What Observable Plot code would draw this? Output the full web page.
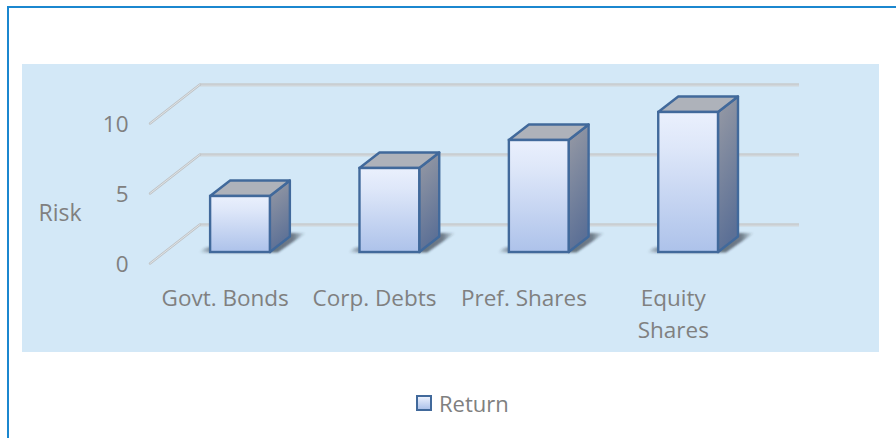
<!DOCTYPE html>
<html>
<head>
<meta charset="utf-8">
<script src="https://cdn.jsdelivr.net/npm/d3@7"></script>
<script src="https://cdn.jsdelivr.net/npm/@observablehq/plot@0.6"></script>
<style>
  html, body { margin: 0; padding: 0; background: #fff; }
  #page { position: relative; width: 896px; height: 438px; overflow: hidden; font-family: "Open Sans", sans-serif; }
  #edge { position: absolute; left: 7px; top: 6px; right: 0; bottom: 0; border-left: 2px solid #1b87cf; border-top: 2px solid #1b87cf; }
  #panel { position: absolute; left: 22px; top: 64px; width: 857px; height: 288px; background: #d3e8f7; }
  #chart { position: absolute; left: 0; top: 0; }
  #chart svg { overflow: visible; }
  #legend { position: absolute; left: 416px; top: 388px; display: flex; align-items: center; gap: 7px; font-size: 22px; line-height: 30px; color: #808080; }
  #legend i { display: block; width: 12px; height: 12px; border: 2px solid #41699b; background: linear-gradient(#eaf0fd, #adc2ea); }
</style>
</head>
<body>
<div id="page">
  <div id="edge"></div>
  <div id="panel"></div>
  <div id="chart"></div>
  <div id="legend"><i></i><span>Return</span></div>
</div>
<script>
const categories = ["Govt. Bonds", "Corp. Debts", "Pref. Shares", "Equity\nShares"];
const returnValues = [4, 6, 8, 10];
const yTicks = [0, 5, 10];
const axisTitle = "Risk";

const rows = categories.map((category, i) => ({category, value: returnValues[i]}));

// Projection of the fake 3-D floor
const floor = {dx: 50, dy: -39};   // front edge to back wall
const seat = {dx: 15.3, dy: -11.5};  // front edge to bar front face
const depth = {dx: 20, dy: -15.5}; // bar depth

const defs = () => {
  const d = d3.create("svg:defs");
  const grad = (id, x2, y2, stops) => {
    const g = d.append("linearGradient").attr("id", id).attr("x1", 0).attr("y1", 0).attr("x2", x2).attr("y2", y2);
    stops.forEach(([o, c, a]) => g.append("stop").attr("offset", o).attr("stop-color", c).attr("stop-opacity", a ?? 1));
  };
  grad("front", 0, 1, [[0, "#eaf0fd"], [0.25, "#deE7f9"], [1, "#adc2ea"]]);
  grad("side", 0.25, 1, [[0, "#989ba5"], [1, "#5c7096"]]);
  const shade = d.append("linearGradient").attr("id", "shade").attr("x1", 0).attr("y1", 0).attr("x2", 1).attr("y2", 0);
  [[0, 0], [0.12, 0.55], [0.5, 0.7], [0.88, 0.6], [1, 0]].forEach(([o, a]) =>
    shade.append("stop").attr("offset", o).attr("stop-color", "#2b3440").attr("stop-opacity", a));
  d.append("filter").attr("id", "soft").attr("x", "-30%").attr("y", "-60%").attr("width", "160%").attr("height", "220%")
    .append("feGaussianBlur").attr("stdDeviation", 1.3);
  return d.node();
};

// Slanted floor-to-wall part of each gridline
const slants = (index, {y}, values, {marginLeft}) => {
  const g = d3.create("svg:g");
  for (const t of yTicks) {
    const x0 = marginLeft, y0 = y(t);
    const seg = g.append("g").attr("fill", "none").attr("stroke-linecap", "round");
    seg.append("line").attr("x1", x0).attr("y1", y0).attr("x2", x0 + floor.dx).attr("y2", y0 + floor.dy)
      .attr("stroke", "#bfc3c6").attr("stroke-width", 2.4);
    seg.append("line").attr("x1", x0).attr("y1", y0).attr("x2", x0 + floor.dx).attr("y2", y0 + floor.dy)
      .attr("stroke", "#dfe3e6").attr("stroke-width", 1);
  }
  return g.node();
};

// Ground shadow, top face and side face of each bar
const solids = (index, {x, y}) => {
  const g = d3.create("svg:g");
  const w = x.bandwidth();
  const pts = (a) => a.map((p) => p.join(",")).join(" ");
  for (const r of rows) {
    const x0 = x(r.category) + seat.dx, x1 = x0 + w;
    const yb = y(0) + seat.dy, yt = y(r.value) + seat.dy;
    g.append("polygon")
      .attr("points", pts([[x0 - 11, yb + 0.5], [x0 - 6, yb - 4], [x1 + 18, yb - 19], [x1 + 36, yb - 19], [x1 + 8, yb + 0.5]]))
      .attr("fill", "url(#shade)").attr("filter", "url(#soft)");
    g.append("polygon")
      .attr("points", pts([[x1, yt], [x1 + depth.dx, yt + depth.dy], [x1 + depth.dx, yb + depth.dy], [x1, yb]]))
      .attr("fill", "url(#side)").attr("stroke", "#41699b").attr("stroke-width", 2.4).attr("stroke-linejoin", "round");
    g.append("polygon")
      .attr("points", pts([[x0, yt], [x0 + depth.dx, yt + depth.dy], [x1 + depth.dx, yt + depth.dy], [x1, yt]]))
      .attr("fill", "#aeb2ba").attr("stroke", "#41699b").attr("stroke-width", 2.4).attr("stroke-linejoin", "round");
  }
  return g.node();
};

const plot = Plot.plot({
  width: 896,
  height: 360,
  marginLeft: 150,
  marginRight: 148.5,
  marginTop: 123.5,
  marginBottom: 96.5,
  style: {background: "transparent", fontFamily: "'Open Sans', sans-serif", fontSize: "22.5px", color: "#808080"},
  x: {domain: categories, paddingInner: 0.6, paddingOuter: 0.3, round: false, label: null},
  y: {domain: [0, 10], label: null},
  marks: [
    defs,
    Plot.ruleY(yTicks, {dx: floor.dx, dy: floor.dy, insetRight: -1.5, stroke: "#d0d6da", strokeWidth: 3}),
    Plot.ruleY(yTicks, {dx: floor.dx, dy: floor.dy - 1, insetRight: -1.5, stroke: "#c3c6c9", strokeWidth: 1}),
    slants,
    solids,
    Plot.barY(rows, {x: "category", y: "value", dx: seat.dx, dy: seat.dy, fill: "url(#front)", stroke: "#41699b", strokeWidth: 2.4}),
    Plot.axisY({ticks: yTicks, tickSize: 0, tickPadding: 22, label: null, fontSize: 22.5, dy: 0.5}),
    Plot.axisX({tickSize: 0, tickPadding: 19, label: null, fontSize: 22.5, lineHeight: 1.42}),
    Plot.text([axisTitle], {frameAnchor: "left", textAnchor: "start", dx: -112, dy: 20, fontSize: 23, fill: "#808080"})
  ]
});
document.getElementById("chart").append(plot);
</script>
</body>
</html>
